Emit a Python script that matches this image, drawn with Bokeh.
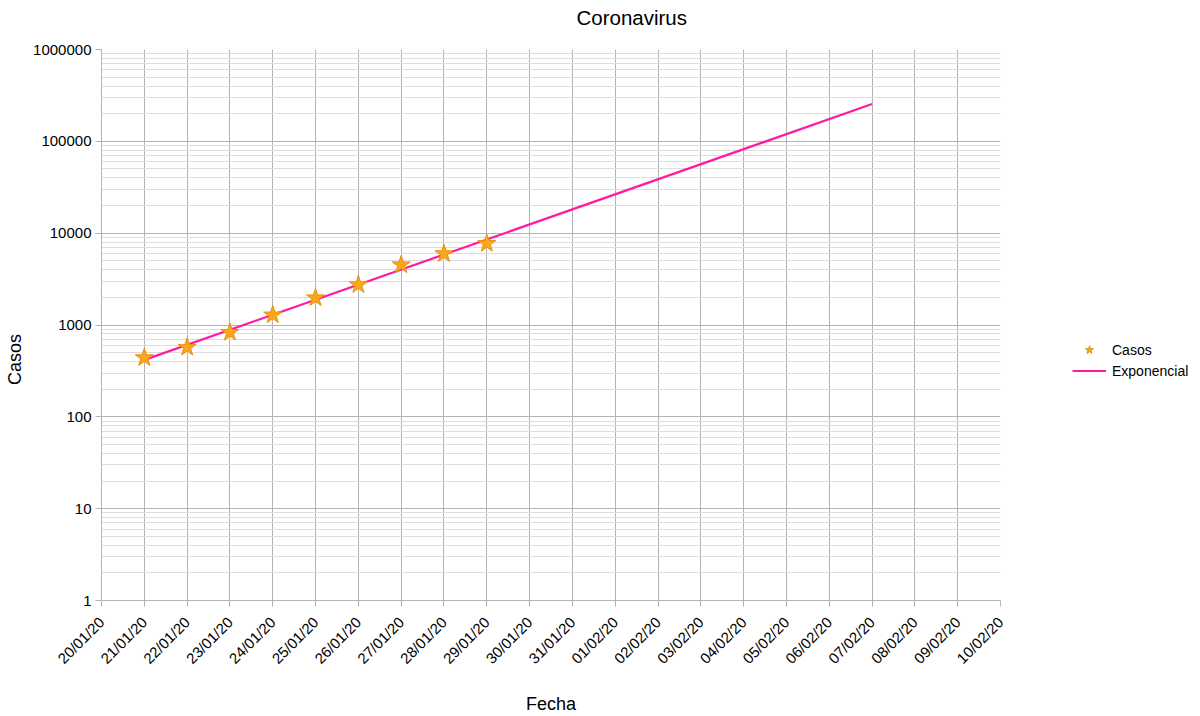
import numpy as np
from bokeh.plotting import figure
from bokeh.layouts import row
from bokeh.models import FixedTicker, Legend, LegendItem, Label, ColumnDataSource
from bokeh.embed import file_html
from bokeh.resources import INLINE

# ---- data ----
date_labels = ["20/01/20", "21/01/20", "22/01/20", "23/01/20", "24/01/20", "25/01/20",
               "26/01/20", "27/01/20", "28/01/20", "29/01/20", "30/01/20", "31/01/20",
               "01/02/20", "02/02/20", "03/02/20", "04/02/20", "05/02/20", "06/02/20",
               "07/02/20", "08/02/20", "09/02/20", "10/02/20"]
case_dates = ["21/01/20", "22/01/20", "23/01/20", "24/01/20", "25/01/20",
              "26/01/20", "27/01/20", "28/01/20", "29/01/20"]
cases = [440, 571, 830, 1287, 1975, 2744, 4515, 5974, 7711]
trend_start = "21/01/20"
trend_end = "07/02/20"
y_ticks = [1, 10, 100, 1000, 10000, 100000, 1000000]
y_tick_labels = ["1", "10", "100", "1000", "10000", "100000", "1000000"]

FONT = "Liberation Sans"
GRID = "#b3b3b3"
MINOR = "#dddddd"
STAR_FILL = "#fba71b"
STAR_LINE = "#e8900c"
TREND = "#ff1aa0"

idx = {d: i for i, d in enumerate(date_labels)}
cx = [idx[d] for d in case_dates]

# exponential trend (least squares on log10)
slope, intercept = np.polyfit(cx, np.log10(cases), 1)
tx = [idx[trend_start], idx[trend_end]]
ty = [10 ** (intercept + slope * x) for x in tx]

H = 716
TOP = 49
BOTTOM = H - 601
LEFT_W = 30
MAIN_W = 980
LEG_W = 1200 - LEFT_W - MAIN_W


def strip(width):
    f = figure(width=width, height=H, x_range=(0, 1), y_range=(0, 1),
               output_backend="svg", toolbar_location=None,
               x_axis_location=None, y_axis_location=None,
               min_border_left=0, min_border_right=0,
               min_border_top=TOP, min_border_bottom=BOTTOM)
    f.outline_line_color = None
    f.xgrid.visible = False
    f.ygrid.visible = False
    return f


# ---- left strip with the y-axis title (screen units from frame bottom-left) ----
left = strip(LEFT_W)
left.add_layout(Label(x=14, y=601 - 360, x_units="screen", y_units="screen",
                      text="Casos", angle=np.pi / 2,
                      text_align="center", text_baseline="middle",
                      text_font=FONT, text_font_size="18px", text_color="#000000"))

# ---- main plot ----
p = figure(width=MAIN_W, height=H, y_axis_type="log",
           x_range=(0, len(date_labels) - 1), y_range=(1, 1000000),
           output_backend="svg", toolbar_location=None,
           min_border_left=100 - LEFT_W, min_border_right=LEFT_W + MAIN_W - 1000,
           min_border_top=TOP, min_border_bottom=BOTTOM)
p.outline_line_color = None
p.background_fill_color = "white"

p.title.text = "Coronavirus"
p.title.text_font = FONT
p.title.text_font_size = "20.5px"
p.title.text_font_style = "normal"
p.title.text_color = "#000000"
p.title.align = "left"
p.title.vertical_align = "bottom"
p.title.offset = 475
p.title.standoff = 0
p.title.padding = dict(left=0, right=0, top=0, bottom=21)

xa = p.xaxis[0]
xa.ticker = FixedTicker(ticks=list(range(len(date_labels))))
xa.major_label_overrides = {i: d for i, d in enumerate(date_labels)}
xa.major_label_orientation = np.pi / 4
xa.major_label_text_font = FONT
xa.major_label_text_font_size = "15px"
xa.major_label_text_color = "#000000"
xa.major_label_standoff = 13
xa.axis_line_color = GRID
xa.major_tick_line_color = GRID
xa.major_tick_out = 6
xa.major_tick_in = 0
xa.minor_tick_line_color = None
xa.axis_label = "Fecha"
xa.axis_label_text_font = FONT
xa.axis_label_text_font_size = "18px"
xa.axis_label_text_font_style = "normal"
xa.axis_label_text_color = "#000000"
xa.axis_label_standoff = 18

minor = [m * 10 ** k for k in range(0, 6) for m in range(2, 10)]
ya = p.yaxis[0]
ya.ticker = FixedTicker(ticks=y_ticks, minor_ticks=minor)
ya.major_label_overrides = {t: l for t, l in zip(y_ticks, y_tick_labels)}
ya.major_label_text_font = FONT
ya.major_label_text_font_size = "15px"
ya.major_label_text_color = "#000000"
ya.major_label_standoff = 4
ya.axis_line_color = GRID
ya.major_tick_line_color = GRID
ya.major_tick_out = 6
ya.major_tick_in = 0
ya.minor_tick_line_color = None

p.xgrid.grid_line_color = GRID
p.ygrid.grid_line_color = GRID
p.ygrid.minor_grid_line_color = MINOR

src = ColumnDataSource(dict(x=cx, y=cases))
p.line(tx, ty, line_color=TREND, line_width=2.2)
p.scatter("x", "y", source=src, marker="star", size=19,
          fill_color=STAR_FILL, line_color=STAR_LINE, line_width=1)

# ---- legend strip ----
leg = strip(LEG_W)
lr_pts = leg.scatter([-100], [-100], marker="star", size=19,
                     fill_color=STAR_FILL, line_color=STAR_LINE, line_width=1)
lr_line = leg.line([-100, -90], [-100, -100], line_color=TREND, line_width=2.2)
legend = Legend(items=[LegendItem(label="Casos", renderers=[lr_pts]),
                       LegendItem(label="Exponencial", renderers=[lr_line])],
                location=(1072 - LEFT_W - MAIN_W, 601 - 382), orientation="vertical",
                glyph_width=34, glyph_height=21, label_height=21, spacing=0,
                label_standoff=6, padding=0, margin=0,
                border_line_color=None, background_fill_alpha=0,
                label_text_font=FONT, label_text_font_size="14px",
                label_text_color="#000000")
leg.add_layout(legend, "center")

layout = row(left, p, leg)
open("out.html", "w").write(file_html(layout, INLINE))
